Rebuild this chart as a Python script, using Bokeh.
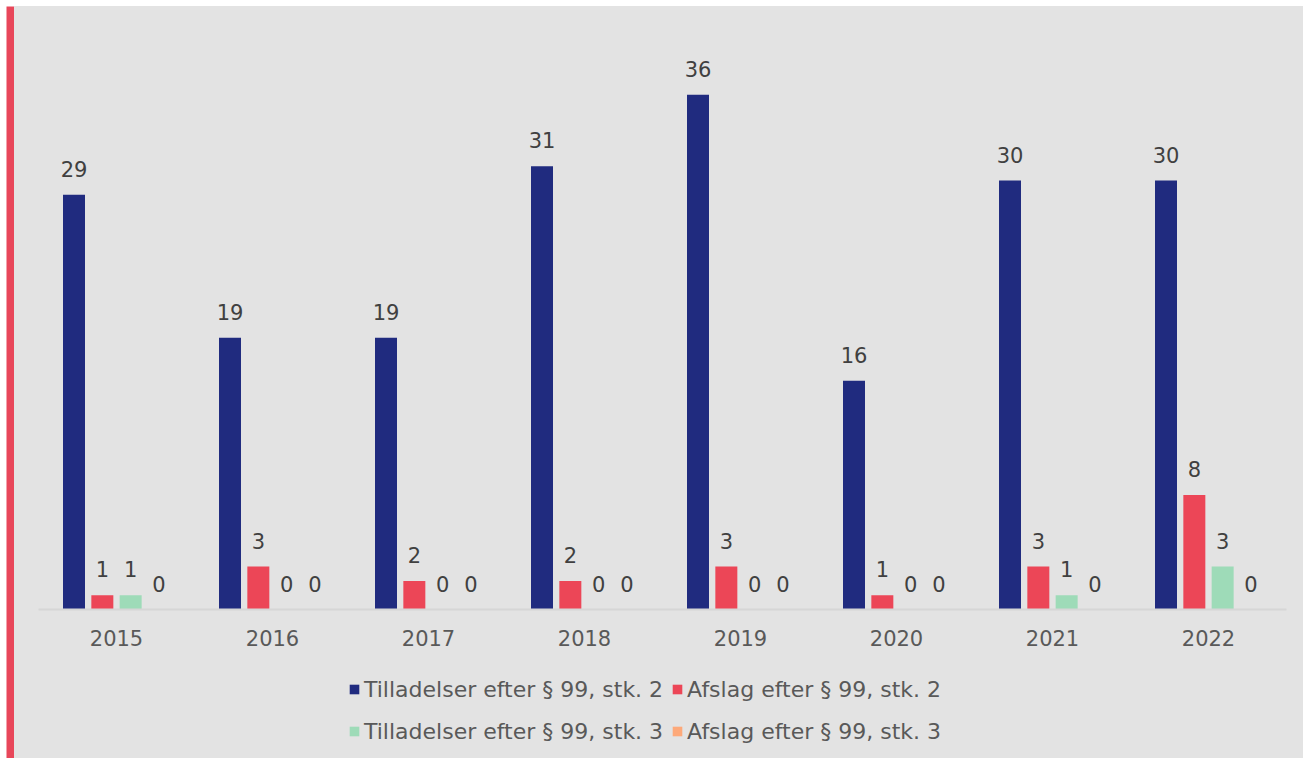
from bokeh.plotting import figure
from bokeh.layouts import column, row
from bokeh.models import (ColumnDataSource, FactorRange, Range1d, Legend, LegendItem,
                          Label, Spacer)
from bokeh.core.properties import value
from bokeh.transform import dodge
from bokeh.embed import file_html
from bokeh.resources import INLINE

# Data
years = ["2015", "2016", "2017", "2018", "2019", "2020", "2021", "2022"]
tilladelser_stk2 = [29, 19, 19, 31, 36, 16, 30, 30]
afslag_stk2 = [1, 3, 2, 2, 3, 1, 3, 8]
tilladelser_stk3 = [1, 0, 0, 0, 0, 0, 1, 3]
afslag_stk3 = [0, 0, 0, 0, 0, 0, 0, 0]

series_names = [
    "Tilladelser efter § 99, stk. 2",
    "Afslag efter § 99, stk. 2",
    "Tilladelser efter § 99, stk. 3",
    "Afslag efter § 99, stk. 3",
]
series_values = [tilladelser_stk2, afslag_stk2, tilladelser_stk3, afslag_stk3]
colors = ["#202b7f", "#ec4657", "#9edbb8", "#fda97a"]
title_text = "Figur 10: Tilladelser og afslag efter § 99, stk. 2, og stk. 3 (2015-2022)"

BG = "#e3e3e3"
ACCENT = "#e8475a"
FONT = "DejaVu Sans"


def bare_figure(w, h, fill, **kw):
    f = figure(width=w, height=h, x_axis_location=None, y_axis_location=None,
               x_range=Range1d(0, 1), y_range=Range1d(0, 1),
               output_backend="svg", toolbar_location=None, min_border=0,
               background_fill_color=fill, border_fill_color=fill, **kw)
    f.outline_line_color = None
    f.grid.visible = False
    return f


# heading strip (the heading runs off the top edge)
head = bare_figure(1303, 6, "white")
head.add_layout(Label(x=3, y=8.5, x_units="screen", y_units="screen",
                      text=title_text, text_baseline="middle",
                      text_font=FONT, text_font_style="bold",
                      text_font_size="21.5px", text_color="#1f2a7e"))

# accent bar on the left
accent = bare_figure(8, 752, ACCENT)

# main chart
p = figure(
    width=1289, height=644,
    x_range=FactorRange(*years, range_padding=0),
    y_range=Range1d(0, 40),
    y_axis_location=None,
    output_backend="svg", toolbar_location=None,
    background_fill_color=BG, border_fill_color=BG,
    min_border_left=24, min_border_right=17,
    min_border_top=31, min_border_bottom=41,
)
p.outline_line_color = None
p.xgrid.visible = False
p.ygrid.visible = False

src = ColumnDataSource(dict(year=years, **{f"s{i}": v for i, v in enumerate(series_values)}))

pitch = 0.1816
offsets = [-1.5 * pitch, -0.5 * pitch, 0.5 * pitch, 1.5 * pitch]
for i, col in enumerate(colors):
    xs = dodge("year", offsets[i], range=p.x_range)
    p.vbar(x=xs, top=f"s{i}", width=0.141, source=src,
           fill_color=col, line_color=None)
    p.text(x=xs, y=f"s{i}", text=f"s{i}", source=src,
           text_align="center", text_baseline="alphabetic", y_offset=-26,
           text_font=value(FONT), text_font_size="21px", text_color="#404040")

# x axis
ax = p.xaxis[0]
ax.axis_line_color = "#d6d6d6"
ax.axis_line_width = 2
ax.major_tick_line_color = None
ax.minor_tick_line_color = None
ax.major_label_text_font = FONT
ax.major_label_text_font_size = "21px"
ax.major_label_text_color = "#595959"
ax.major_label_standoff = 14

# legend panel under the chart, two entries per row
leg = bare_figure(1289, 108, BG)
items = []
for name, col in zip(series_names, colors):
    # zero-height placeholder renderer, only used for the legend swatch
    r = leg.vbar(x=[0], top=[0], width=0.001, fill_color=col, line_color=None)
    items.append(LegendItem(label=name, renderers=[r]))
legend = Legend(items=items, orientation="horizontal", ncols=2,
                location=(310, 10),
                glyph_width=12, glyph_height=12, label_standoff=4,
                spacing=8, label_height=34, padding=0, margin=0,
                label_text_font=FONT, label_text_font_size="22px",
                label_text_color="#595959",
                background_fill_alpha=0, border_line_color=None)
leg.add_layout(legend, "center")

chart = column(p, leg, styles={"background-color": BG})
layout = column(head, row(Spacer(width=6, height=752), accent, chart))
open("out.html", "w").write(file_html(layout, INLINE))
